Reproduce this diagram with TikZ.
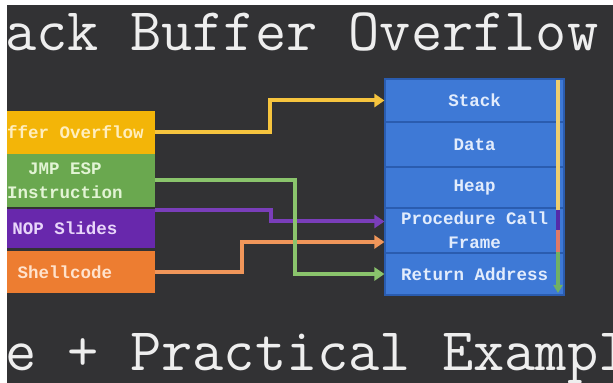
\documentclass[tikz,border=0pt]{standalone}
\usepackage{fontspec}
\setmainfont{Liberation Sans}
\newfontfamily\monofont{Liberation Mono}
\usetikzlibrary{arrows.meta,calc}

\definecolor{bg}{RGB}{50,50,52}
\definecolor{titlewhite}{RGB}{238,238,238}
\definecolor{boxyellow}{RGB}{243,181,8}
\definecolor{boxgreen}{RGB}{106,168,79}
\definecolor{boxpurple}{RGB}{104,40,172}
\definecolor{boxorange}{RGB}{237,125,49}
\definecolor{stackblue}{RGB}{62,121,214}
\definecolor{stackedge}{RGB}{42,92,175}
\definecolor{linkyellow}{RGB}{246,196,62}
\definecolor{linkgreen}{RGB}{138,196,108}
\definecolor{linkpurple}{RGB}{122,62,186}
\definecolor{linkorange}{RGB}{240,150,90}
\definecolor{baryellow}{RGB}{238,206,112}
\definecolor{barpurple}{RGB}{84,42,168}
\definecolor{barsalmon}{RGB}{222,122,104}
\definecolor{bargreen}{RGB}{112,176,100}

\tikzset{
  headfont/.style={font=\ttfamily\fontsize{30.3}{35}\selectfont},
  labelfont/.style={font=\monofont\bfseries\fontsize{8.75}{12}\selectfont},
  srcbox/.style={labelfont, inner sep=0pt, minimum width=90pt, align=center},
  row/.style={labelfont, inner sep=0pt, minimum width=89.5pt, fill=stackblue,
    draw=stackedge, line width=0.6pt, text={rgb,255:red,226;green,236;blue,252}, align=center},
  link/.style={line width=2pt, line join=miter, -{Triangle[length=5pt,width=6.5pt]}},
  barseg/.style={line width=2pt}
}

\begin{document}
\begin{tikzpicture}[x=0.5pt,y=-0.5pt]
\useasboundingbox (0,0) rectangle (613,383);
\fill[white] (0,0) rectangle (613,383);
\begin{scope}
\clip (7,5) rectangle (613,383);
\fill[bg] (7,5) rectangle (613,383);

% heading lines
\node[anchor=base west, inner sep=0pt, text=titlewhite, headfont] (title) at (5,51) {ack Buffer Overflow};
\node[anchor=base west, inner sep=0pt, text=titlewhite, headfont] (subtitle) at (5,370) {e + Practical Exampl};

% exploit ingredients
\node[srcbox, minimum width=79.5pt, minimum height=21.5pt, fill=boxyellow,
      text={rgb,255:red,255;green,238;blue,190}] (ybox) at (75.5,132.5) {ffer Overflow};
\node[srcbox, minimum height=26.5pt, fill=boxgreen,
      text={rgb,255:red,226;green,244;blue,212}] (gbox) at (65,180.5) {JMP ESP\\Instruction};
\node[srcbox, minimum height=19.5pt, fill=boxpurple,
      text={rgb,255:red,232;green,214;blue,250}] (pbox) at (65,228.5) {NOP Slides};
\node[srcbox, minimum height=21pt, fill=boxorange,
      text={rgb,255:red,255;green,226;blue,204}] (obox) at (65,272) {Shellcode};

% memory layout
\node[row, minimum height=21.5pt] (stk) at (474.5,100.5) {Stack};
\node[row, minimum height=22.5pt] (dat) at (474.5,144.5) {Data};
\node[row, minimum height=20.5pt] (hp)  at (474.5,187.5) {Heap};
\node[row, minimum height=22.5pt] (pcf) at (474.5,230.5) {Procedure Call\\Frame};
\node[row, minimum height=21pt]   (ret) at (474.5,274)   {Return Address};

% connectors
\draw[link, linkyellow] (ybox.east) -- ++(115,0) |- (stk.west);
\draw[link, linkpurple] ($(pbox.north east)+(0,1.5)$) -- ++(116,0) |- ($(pcf.west)+(0,-9)$);
\draw[link, linkorange] (obox.east) -- ++(87,0) |- ($(pcf.west)+(0,11.5)$);
\draw[link, linkgreen] (gbox.east) -- ++(140,0) |- (ret.west);

% growth bar along the right side of the stack
\coordinate (b0) at (558,80);
\coordinate (b1) at (558,210);
\coordinate (b2) at (558,230);
\coordinate (b3) at (558,252);
\coordinate (b4) at (558,293);
\draw[barseg, baryellow] (b0) -- (b1);
\draw[barseg, barpurple] (b1) -- (b2);
\draw[barseg, barsalmon] (b2) -- (b3);
\draw[barseg, bargreen, -{Triangle[length=4pt,width=4.5pt]}] (b3) -- (b4);
\end{scope}
\end{tikzpicture}
\end{document}
